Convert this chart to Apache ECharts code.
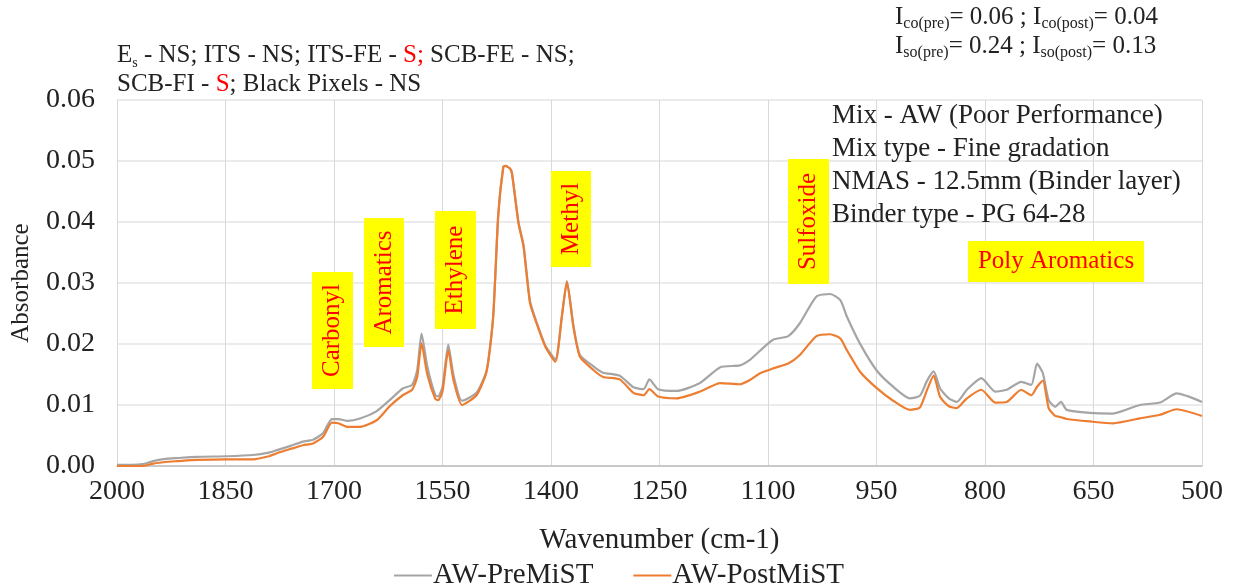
<!DOCTYPE html>
<html>
<head>
<meta charset="utf-8">
<script src="https://cdn.jsdelivr.net/npm/echarts@6/dist/echarts.min.js"></script>
<style>
  html, body { margin: 0; padding: 0; background: #ffffff; }
  #chart { width: 1238px; height: 587px; }
</style>
</head>
<body>
<div id="chart"></div>
<script>
// FTIR spectra (absorbance vs. wavenumber), AW mix before and after MiST
const wavenumbers = [
  2000, 1980, 1965, 1950, 1930, 1917, 1890, 1848, 1812, 1790, 1779, 1760, 1743, 1729, 1715,
  1703, 1694, 1681, 1664, 1641, 1623, 1605, 1592, 1585, 1579, 1571, 1560, 1556, 1550, 1542,
  1535, 1523, 1503, 1489, 1480, 1473, 1466, 1463, 1457, 1454, 1445, 1438, 1429, 1420, 1408,
  1394, 1385, 1378, 1369, 1360, 1341, 1328, 1305, 1286, 1272, 1264, 1252, 1226, 1194, 1166,
  1139, 1125, 1111, 1093, 1072, 1056, 1033, 1014, 1000, 991, 973, 950, 927, 904, 890,
  880, 871, 862, 850, 839, 825, 805, 786, 770, 750, 736, 728, 720, 712, 703,
  695, 687, 655, 623, 586, 558, 535, 500
];
const preMiST = [
  0.0002, 0.0002, 0.0003, 0.0008, 0.0012, 0.0013, 0.0015, 0.0016, 0.0018, 0.0022, 0.0026, 0.0033, 0.0040, 0.0043, 0.0054,
  0.0077, 0.0077, 0.0074, 0.0078, 0.0090, 0.0108, 0.0127, 0.0133, 0.0157, 0.0217, 0.0163, 0.0116, 0.0114, 0.0130, 0.0199,
  0.0150, 0.0107, 0.0120, 0.0157, 0.0245, 0.0410, 0.0490, 0.0492, 0.0488, 0.0480, 0.0400, 0.0362, 0.0270, 0.0236, 0.0198,
  0.0175, 0.0245, 0.0303, 0.0230, 0.0182, 0.0163, 0.0153, 0.0148, 0.0129, 0.0126, 0.0142, 0.0126, 0.0123, 0.0136, 0.0162,
  0.0165, 0.0174, 0.0189, 0.0207, 0.0213, 0.0234, 0.0278, 0.0282, 0.0272, 0.0245, 0.0201, 0.0157, 0.0130, 0.0111, 0.0115,
  0.0140, 0.0155, 0.0127, 0.0111, 0.0105, 0.0125, 0.0144, 0.0122, 0.0125, 0.0138, 0.0133, 0.0168, 0.0152, 0.0108, 0.0097,
  0.0105, 0.0092, 0.0087, 0.0086, 0.0100, 0.0104, 0.0119, 0.0105
];
const postMiST = [
  0.0000, 0.0000, 0.0000, 0.0004, 0.0007, 0.0008, 0.0010, 0.0011, 0.0011, 0.0016, 0.0021, 0.0028, 0.0034, 0.0037, 0.0048,
  0.0071, 0.0070, 0.0064, 0.0064, 0.0075, 0.0098, 0.0116, 0.0125, 0.0146, 0.0201, 0.0150, 0.0110, 0.0108, 0.0122, 0.0190,
  0.0142, 0.0100, 0.0116, 0.0155, 0.0243, 0.0410, 0.0490, 0.0492, 0.0488, 0.0480, 0.0398, 0.0360, 0.0267, 0.0234, 0.0196,
  0.0171, 0.0245, 0.0302, 0.0228, 0.0179, 0.0157, 0.0146, 0.0142, 0.0120, 0.0116, 0.0126, 0.0114, 0.0111, 0.0122, 0.0136,
  0.0134, 0.0141, 0.0152, 0.0160, 0.0168, 0.0182, 0.0213, 0.0216, 0.0209, 0.0190, 0.0155, 0.0128, 0.0107, 0.0092, 0.0096,
  0.0125, 0.0148, 0.0113, 0.0098, 0.0095, 0.0111, 0.0125, 0.0104, 0.0105, 0.0125, 0.0116, 0.0130, 0.0140, 0.0095, 0.0082,
  0.0080, 0.0077, 0.0073, 0.0070, 0.0078, 0.0084, 0.0093, 0.0082
];
const seriesNames = ['AW-PreMiST', 'AW-PostMiST'];
const bandLabels = ['Carbonyl', 'Aromatics', 'Ethylene', 'Methyl', 'Sulfoxide', 'Poly Aromatics'];
const mixInfo = ['Mix - AW (Poor Performance)', 'Mix type - Fine gradation', 'NMAS - 12.5mm (Binder layer)', 'Binder type - PG 64-28'];

const SERIF = "'Liberation Serif', 'Times New Roman', serif";
const pairs = ys => wavenumbers.map((w, i) => [w, ys[i]]);

// yellow tag with red text, optionally rotated to read bottom-to-top
function bandTag(label, x, y, w, h, vertical) {
  return [
    { type: 'rect', shape: { x: x, y: y, width: w, height: h }, style: { fill: '#ffff00' }, z: 10 },
    {
      type: 'text', x: x + w / 2, y: y + h / 2, rotation: vertical ? Math.PI / 2 : 0, z: 11,
      style: { text: label, fill: '#ff0000', font: '25px ' + SERIF, align: 'center', verticalAlign: 'middle' }
    }
  ];
}

const chart = echarts.init(document.getElementById('chart'));
chart.setOption({
  backgroundColor: '#ffffff',
  animation: false,
  grid: { left: 117, right: 36, top: 100, bottom: 121, containLabel: false },
  legend: {
    data: seriesNames,
    left: 'center', top: 556,
    icon: 'rect', itemWidth: 38, itemHeight: 2, itemGap: 40,
    textStyle: { fontFamily: SERIF, fontSize: 29, color: '#222222', padding: [0, 0, 0, -4] }
  },
  xAxis: {
    type: 'value', inverse: true, min: 500, max: 2000, interval: 150,
    name: 'Wavenumber (cm-1)', nameLocation: 'middle', nameGap: 60,
    nameTextStyle: { fontFamily: SERIF, fontSize: 29, color: '#222222' },
    axisLine: { show: true, lineStyle: { color: '#bfbfbf', width: 1.5 } },
    axisTick: { show: false },
    axisLabel: { fontFamily: SERIF, fontSize: 28, color: '#222222', margin: 12, formatter: v => String(v) },
    splitLine: { show: true, lineStyle: { color: '#d9d9d9', width: 1 } }
  },
  yAxis: {
    type: 'value', min: 0, max: 0.06, interval: 0.01,
    name: 'Absorbance', nameLocation: 'middle', nameGap: 83,
    nameTextStyle: { fontFamily: SERIF, fontSize: 25, color: '#222222' },
    axisLine: { show: false },
    axisTick: { show: false },
    axisLabel: { fontFamily: SERIF, fontSize: 28, color: '#222222', margin: 22, formatter: v => v.toFixed(2) },
    splitLine: { show: true, lineStyle: { color: '#e4e4e4', width: 1.5 } }
  },
  series: [
    {
      name: seriesNames[0], type: 'line', data: pairs(preMiST), symbol: 'none', smooth: 0.2,
      itemStyle: { color: '#a5a5a5' }, lineStyle: { color: '#a5a5a5', width: 2.2 }, z: 2
    },
    {
      name: seriesNames[1], type: 'line', data: pairs(postMiST), symbol: 'none', smooth: 0.2,
      itemStyle: { color: '#ed7d31' }, lineStyle: { color: '#ed7d31', width: 2.2 }, z: 3
    }
  ],
  graphic: [
    {
      type: 'text', left: 117, top: 43, z: 20,
      style: {
        text: '{n|E}{sub|s}{n| - NS; ITS - NS; ITS-FE - }{r|S;}{n| SCB-FE - NS;}\n{n|SCB-FI - }{r|S}{n|; Black Pixels - NS}',
        rich: {
          n: { fontFamily: SERIF, fontSize: 25, fill: '#222222', lineHeight: 29 },
          r: { fontFamily: SERIF, fontSize: 25, fill: '#ff0000', lineHeight: 29 },
          sub: { fontFamily: SERIF, fontSize: 14, fill: '#222222', verticalAlign: 'bottom' }
        }
      }
    },
    {
      type: 'text', left: 895, top: 5, z: 20,
      style: {
        text: '{n|I}{sub|co(pre)}{n|= 0.06 ; I}{sub|co(post)}{n|= 0.04}\n{n|I}{sub|so(pre)}{n|= 0.24 ; I}{sub|so(post)}{n|= 0.13}',
        rich: {
          n: { fontFamily: SERIF, fontSize: 25, fill: '#222222', lineHeight: 29 },
          sub: { fontFamily: SERIF, fontSize: 16, fill: '#222222', verticalAlign: 'bottom' }
        }
      }
    },
    {
      type: 'text', left: 832, top: 99, z: 20,
      style: { text: mixInfo.join('\n'), font: '27px ' + SERIF, fill: '#222222', lineHeight: 33 }
    },
    ...bandTag(bandLabels[0], 312, 272, 41, 117, true),
    ...bandTag(bandLabels[1], 364, 218, 40, 129, true),
    ...bandTag(bandLabels[2], 435, 211, 41, 118, true),
    ...bandTag(bandLabels[3], 551, 171, 40, 96, true),
    ...bandTag(bandLabels[4], 788, 159, 41, 125, true),
    ...bandTag(bandLabels[5], 968, 241, 176, 41, false)
  ]
});
</script>
</body>
</html>
